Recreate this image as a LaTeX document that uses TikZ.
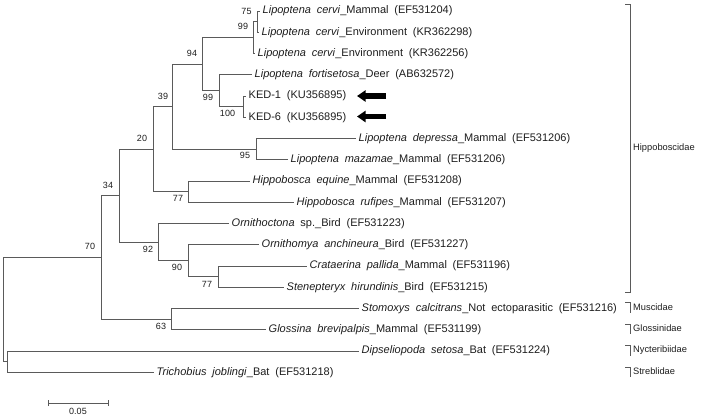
\documentclass[tikz,border=0pt]{standalone}
\usepackage{fontspec}
\setmainfont{Liberation Sans}
\usetikzlibrary{arrows.meta}
\definecolor{branch}{HTML}{5A5A5A}
\definecolor{txt}{HTML}{1E1E1E}
\newcommand\myleaffont{\fontsize{11}{13}\selectfont\spaceskip=5.8pt plus 1pt\relax}
\begin{document}
\begin{tikzpicture}[x=1pt,y=-1pt,
  branchline/.style={draw=branch, line width=1pt},
  leafname/.style={anchor=west, inner xsep=2.5pt, inner ysep=0pt, text=txt, font=\myleaffont},
  boot/.style={inner sep=0pt, text=txt, font=\fontsize{9}{10}\selectfont},
  famname/.style={anchor=west, inner sep=0pt, text=txt, font=\fontsize{9.3}{11}\selectfont},
  famline/.style={draw=branch, line width=0.9pt},
  kedarrow/.style={line width=5.5pt, -{Triangle[length=8.5pt,width=11pt]}, black},
]
\useasboundingbox (0,0) rectangle (703,416);
\fill[white] (0,0) rectangle (703,416);

% leaves
\node[leafname] (l1)  at (260,11)     {\textit{Lipoptena cervi}\_Mammal (EF531204)};
\node[leafname] (l2)  at (259,32.25)  {\textit{Lipoptena cervi}\_Environment (KR362298)};
\node[leafname] (l3)  at (255,53.5)   {\textit{Lipoptena cervi}\_Environment (KR362256)};
\node[leafname] (l4)  at (252,74.75)  {\textit{Lipoptena fortisetosa}\_Deer (AB632572)};
\node[leafname] (l5)  at (246,96)     {KED-1 (KU356895)};
\node[leafname] (l6)  at (246,117.25) {KED-6 (KU356895)};
\node[leafname] (l7)  at (356,138.5)  {\textit{Lipoptena depressa}\_Mammal (EF531206)};
\node[leafname] (l8)  at (288,159.75) {\textit{Lipoptena mazamae}\_Mammal (EF531206)};
\node[leafname] (l9)  at (250,181)    {\textit{Hippobosca equine}\_Mammal (EF531208)};
\node[leafname] (l10) at (294,202.25) {\textit{Hippobosca rufipes}\_Mammal (EF531207)};
\node[leafname] (l11) at (229,223.5)  {\textit{Ornithoctona} sp.\_Bird (EF531223)};
\node[leafname] (l12) at (259,244.75) {\textit{Ornithomya anchineura}\_Bird (EF531227)};
\node[leafname] (l13) at (307,266)    {\textit{Crataerina pallida}\_Mammal (EF531196)};
\node[leafname] (l14) at (284,287.25) {\textit{Stenepteryx hirundinis}\_Bird (EF531215)};
\node[leafname] (l15) at (359,308.5)  {\textit{Stomoxys calcitrans}\_Not ectoparasitic (EF531216)};
\node[leafname] (l16) at (266,329.75) {\textit{Glossina brevipalpis}\_Mammal (EF531199)};
\node[leafname] (l17) at (359,351)    {\textit{Dipseliopoda setosa}\_Bat (EF531224)};
\node[leafname] (l18) at (154,372.25) {\textit{Trichobius joblingi}\_Bat (EF531218)};

% internal nodes
\coordinate (n75)  at (257,21.6);
\coordinate (n99c) at (253,37.6);
\coordinate (n100) at (243,106.6);
\coordinate (n99k) at (219,90.7);
\coordinate (n94)  at (202,64.1);
\coordinate (n95)  at (256,149.1);
\coordinate (n39)  at (172,106.6);
\coordinate (n77b) at (188,191.6);
\coordinate (n20)  at (153,149.1);
\coordinate (n77c) at (218,276.6);
\coordinate (n90)  at (188,260.7);
\coordinate (n92)  at (158,242.1);
\coordinate (n34)  at (119,195.6);
\coordinate (n63)  at (171,319.1);
\coordinate (n70)  at (101,257.4);
\coordinate (ndt)  at (7,361.6);
\coordinate (root) at (3,309.5);

% branches
\draw[branchline] (n75) |- (l1.west) (n75) |- (l2.west);
\draw[branchline] (n99c) |- (n75) (n99c) |- (l3.west);
\draw[branchline] (n100) |- (l5.west) (n100) |- (l6.west);
\draw[branchline] (n99k) |- (l4.west) (n99k) |- (n100);
\draw[branchline] (n94) |- (n99c) (n94) |- (n99k);
\draw[branchline] (n95) |- (l7.west) (n95) |- (l8.west);
\draw[branchline] (n39) |- (n94) (n39) |- (n95);
\draw[branchline] (n77b) |- (l9.west) (n77b) |- (l10.west);
\draw[branchline] (n20) |- (n39) (n20) |- (n77b);
\draw[branchline] (n77c) |- (l13.west) (n77c) |- (l14.west);
\draw[branchline] (n90) |- (l12.west) (n90) |- (n77c);
\draw[branchline] (n92) |- (l11.west) (n92) |- (n90);
\draw[branchline] (n34) |- (n20) (n34) |- (n92);
\draw[branchline] (n63) |- (l15.west) (n63) |- (l16.west);
\draw[branchline] (n70) |- (n34) (n70) |- (n63);
\draw[branchline] (ndt) |- (l17.west) (ndt) |- (l18.west);
\draw[branchline] (root) |- (n70) (root) |- (ndt);

% bootstrap values
\node[boot] (b75)  at (246.5,11.5) {75};
\node[boot] (b99c) at (243,26.7) {99};
\node[boot] (b94)  at (192,53) {94};
\node[boot] (b99k) at (208,97.5) {99};
\node[boot] (b100) at (227.5,113) {100};
\node[boot] (b39)  at (163,96) {39};
\node[boot] (b20)  at (142,138) {20};
\node[boot] (b95)  at (245,155) {95};
\node[boot] (b77b) at (178,198) {77};
\node[boot] (b34)  at (108,185) {34};
\node[boot] (b92)  at (148,249) {92};
\node[boot] (b90)  at (177,267) {90};
\node[boot] (b77c) at (207,284) {77};
\node[boot] (b70)  at (90,246) {70};
\node[boot] (b63)  at (161,326) {63};

% arrows pointing at KED sequences
\coordinate (a1s) at (386,96);
\coordinate (a1e) at (357,96);
\coordinate (a2s) at (386,116.5);
\coordinate (a2e) at (357,116.5);
\draw[kedarrow] (a1s) -- (a1e);
\draw[kedarrow] (a2s) -- (a2e);

% family brackets
\draw[famline] (625,4) -- (630,4) -- (630,292) -- (625,292);
\node[famname] (fHip) at (633,148) {Hippoboscidae};
\draw[famline] (625,302.5) -- (630,302.5) -- (630,312.5);
\node[famname] (fMus) at (633,307) {Muscidae};
\draw[famline] (625,324) -- (630,324) -- (630,334);
\node[famname] (fGlo) at (633,328.5) {Glossinidae};
\draw[famline] (625,345.5) -- (630,345.5) -- (630,355.5);
\node[famname] (fNyc) at (633,350) {Nycteribiidae};
\draw[famline] (625,367) -- (630,367) -- (630,377);
\node[famname] (fStr) at (633,371.5) {Streblidae};

% scale bar
\coordinate (sb1) at (48,403);
\coordinate (sb2) at (108,403);
\draw[branchline] (sb1) -- (sb2);
\draw[branchline] ([yshift=-3]sb1) -- ([yshift=3]sb1);
\draw[branchline] ([yshift=-3]sb2) -- ([yshift=3]sb2);
\node[boot, font=\fontsize{9}{10}\selectfont] (sblab) at (78,411.5) {0.05};
\end{tikzpicture}
\end{document}
